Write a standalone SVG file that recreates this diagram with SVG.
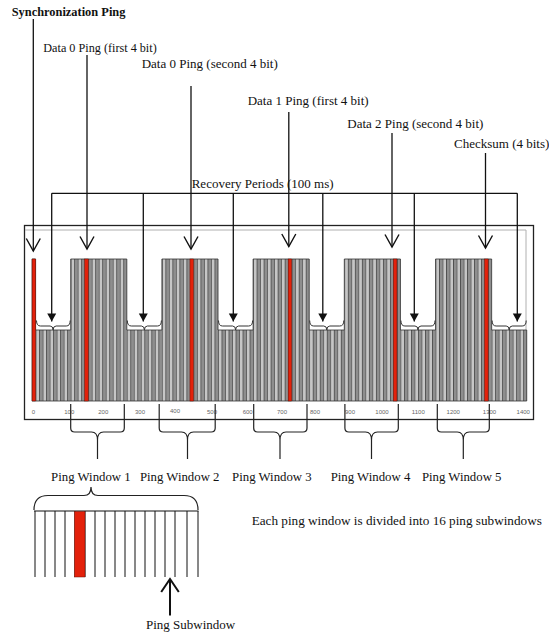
<svg xmlns="http://www.w3.org/2000/svg" width="549" height="637" viewBox="0 0 549 637">
<defs>
<style>
text{font-family:"Liberation Serif","Times New Roman",serif;fill:#111;}
.lbl{font-size:13px;}
.sync{font-size:12.4px;font-weight:bold;}
.pw{font-size:12.8px;}
.ax{font-family:"Liberation Sans",Arial,sans-serif;font-size:6px;fill:#666;text-anchor:middle;}
.ln{stroke:#111;stroke-width:1.3;fill:none;}
.open{marker-end:url(#openHead);}
.solid{marker-end:url(#solidHead);}
.brace{stroke:#222;stroke-width:1.2;fill:none;}
.sbrace{stroke:#333;stroke-width:1;fill:none;}
.red{fill:#e3210b;stroke:#6a0c00;stroke-width:0.5;}
.sub{stroke:#111;stroke-width:1;fill:none;}
</style>
<pattern id="bars" patternUnits="userSpaceOnUse" x="32.1" y="0" width="7.016" height="20">
<rect x="0" y="0" width="3.508" height="20" fill="#8e8e8e"/>
<rect x="3.508" y="0" width="3.508" height="20" fill="#c6c6c6"/>
<rect x="0" y="0" width="0.6" height="20" fill="#333"/>
<rect x="3.508" y="0" width="0.6" height="20" fill="#333"/>
</pattern>
<marker id="openHead" markerUnits="userSpaceOnUse" markerWidth="20" markerHeight="20" refX="0" refY="0" orient="auto" overflow="visible">
<path d="M-12.5,-7 L0,0 L-12.5,7" fill="none" stroke="#111" stroke-width="1.4"/>
</marker>
<marker id="solidHead" markerUnits="userSpaceOnUse" markerWidth="12" markerHeight="12" refX="0" refY="0" orient="auto" overflow="visible">
<path d="M-8,-4.5 L0,0 L-8,4.5 Z" fill="#111"/>
</marker>
<marker id="upHead" markerUnits="userSpaceOnUse" markerWidth="20" markerHeight="20" refX="0" refY="0" orient="auto" overflow="visible">
<path d="M-13,-8.8 L0,0 L-13,8.8" fill="none" stroke="#111" stroke-width="2"/>
</marker>
</defs>

<rect width="549" height="637" fill="#fff"/>

<g id="chart">
<rect x="24.5" y="225.5" width="509" height="194" fill="#fff" stroke="#222" stroke-width="1.3"/>
<polyline points="25,230 526,230 526,401" fill="none" stroke="#b0b0b0" stroke-width="1"/>
<path d="M32.1,401 V259 H35.61 V330 H70.69 V259 H126.82 V330 H161.9 V259 H218.02 V330 H253.1 V259 H309.23 V330 H344.31 V259 H400.44 V330 H435.52 V259 H491.65 V330 H526.73 V401 Z" fill="url(#bars)" stroke="#333" stroke-width="0.8"/>
<rect class="red" x="32.1" y="259" width="3.51" height="142"/>
<rect class="red" x="84.72" y="259" width="3.51" height="142"/>
<rect class="red" x="189.96" y="259" width="3.51" height="142"/>
<rect class="red" x="288.18" y="259" width="3.51" height="142"/>
<rect class="red" x="393.42" y="259" width="3.51" height="142"/>
<rect class="red" x="484.63" y="259" width="3.51" height="142"/>
<g id="axis">
<text class="ax" x="33.3" y="414">0</text>
<text class="ax" x="69.3" y="414">100</text>
<text class="ax" x="103.3" y="414">200</text>
<text class="ax" x="140" y="414">300</text>
<text class="ax" x="175" y="412.5">400</text>
<text class="ax" x="212" y="414">500</text>
<text class="ax" x="247.7" y="414">600</text>
<text class="ax" x="282" y="414">700</text>
<text class="ax" x="315" y="414">800</text>
<text class="ax" x="350" y="414">900</text>
<text class="ax" x="382" y="414">1000</text>
<text class="ax" x="418.3" y="414">1100</text>
<text class="ax" x="453.3" y="414">1200</text>
<text class="ax" x="489.5" y="414">1300</text>
<text class="ax" x="523.3" y="414">1400</text>
</g>
<g id="recovery-braces">
<path class="sbrace" d="M36.5,320.5 Q36.5,326 40.5,326 H50.1 Q53.1,326 53.1,330 M53.1,330 Q53.1,326 56.1,326 H66.2 Q70.2,326 70.2,320.5"/>
<path class="sbrace" d="M127.3,320.5 Q127.3,326 131.3,326 H141.4 Q144.4,326 144.4,330 M144.4,330 Q144.4,326 147.4,326 H157.4 Q161.4,326 161.4,320.5"/>
<path class="sbrace" d="M218.5,320.5 Q218.5,326 222.5,326 H232.6 Q235.6,326 235.6,330 M235.6,330 Q235.6,326 238.6,326 H248.6 Q252.6,326 252.6,320.5"/>
<path class="sbrace" d="M309.7,320.5 Q309.7,326 313.7,326 H323.8 Q326.8,326 326.8,330 M326.8,330 Q326.8,326 329.8,326 H339.8 Q343.8,326 343.8,320.5"/>
<path class="sbrace" d="M400.9,320.5 Q400.9,326 404.9,326 H415 Q418,326 418,330 M418,330 Q418,326 421,326 H431 Q435,326 435,320.5"/>
<path class="sbrace" d="M492.1,320.5 Q492.1,326 496.1,326 H506.2 Q509.2,326 509.2,330 M509.2,330 Q509.2,326 512.2,326 H522.2 Q526.2,326 526.2,320.5"/>
</g>
</g>

<g id="connectors">
<path class="ln open" d="M33.3,19 V251"/>
<path class="ln open" d="M87,55 V249"/>
<path class="ln open" d="M191,86 V249"/>
<path class="ln open" d="M288.8,112 V246.5"/>
<path class="ln open" d="M392,133 V247"/>
<path class="ln open" d="M485.5,153 V248"/>
<path class="ln" d="M51.7,193.3 H517.3"/>
<path class="ln solid" d="M51.7,193.3 V321.5"/>
<path class="ln solid" d="M143.3,193.3 V321.5"/>
<path class="ln solid" d="M233.3,193.3 V321.5"/>
<path class="ln solid" d="M322.8,193.3 V321.5"/>
<path class="ln solid" d="M414.3,193.3 V321.5"/>
<path class="ln solid" d="M517.3,193.3 V321.5"/>
<path class="brace" d="M70.7,404 V428 Q70.7,432 74.7,432 H91.5 Q97.5,432 97.5,440 V459 M124.3,404 V428 Q124.3,432 120.3,432 H103.5 Q97.5,432 97.5,440"/>
<path class="brace" d="M159.2,404 V428 Q159.2,432 163.2,432 H181.5 Q187.5,432 187.5,440 V459 M215.2,404 V428 Q215.2,432 211.2,432 H193.5 Q187.5,432 187.5,440"/>
<path class="brace" d="M253.7,404 V428 Q253.7,432 257.7,432 H274 Q280,432 280,440 V459 M307,404 V428 Q307,432 303,432 H286 Q280,432 280,440"/>
<path class="brace" d="M344.9,404 V428 Q344.9,432 348.9,432 H365.5 Q371.5,432 371.5,440 V459 M398.3,404 V428 Q398.3,432 394.3,432 H377.5 Q371.5,432 371.5,440"/>
<path class="brace" d="M437.3,404 V428 Q437.3,432 441.3,432 H457.3 Q463.3,432 463.3,440 V459 M489.3,404 V428 Q489.3,432 485.3,432 H469.3 Q463.3,432 463.3,440"/>
<path class="brace" d="M34,510 Q34,495.5 48,495.5 H84 Q91,495.5 91,487 M91,487 Q91,495.5 98,495.5 H184 Q198,495.5 198,510"/>
<path class="ln" style="stroke-width:2" marker-end="url(#upHead)" d="M170,615.5 V579"/>
</g>

<g id="label-sync"><text class="sync" x="11.7" y="16">Synchronization Ping</text></g>
<g id="label-data0a"><text class="lbl" x="43.3" y="51.7" style="font-size:12.2px">Data 0 Ping (first 4 bit)</text></g>
<g id="label-data0b"><text class="lbl" x="141.7" y="68.3">Data 0 Ping (second 4 bit)</text></g>
<g id="label-data1"><text class="lbl" x="247.7" y="105">Data 1 Ping (first 4 bit)</text></g>
<g id="label-data2"><text class="lbl" x="347.3" y="127.7">Data 2 Ping (second 4 bit)</text></g>
<g id="label-checksum"><text class="lbl" x="454" y="147.7">Checksum (4 bits)</text></g>
<g id="label-recovery"><text class="lbl" x="191.7" y="188.3">Recovery Periods (100 ms)</text></g>

<g id="ping-windows">
<text class="pw" x="51.1" y="480.5">Ping Window 1</text>
<text class="pw" x="139.9" y="480.5">Ping Window 2</text>
<text class="pw" x="232.1" y="480.5">Ping Window 3</text>
<text class="pw" x="330.7" y="480.5">Ping Window 4</text>
<text class="pw" x="421.9" y="480.5">Ping Window 5</text>
</g>

<g id="subwindow-detail">
<path class="sub" d="M34,511 H198.5"/>
<path class="sub" d="M35,511 V577 M45,511 V577 M55,511 V577 M65,511 V577 M75,511 V577 M85,511 V577 M95,511 V577 M105,511 V577 M115,511 V577 M125,511 V577 M135,511 V577 M145,511 V577 M155,511 V577 M165,511 V577 M175,511 V577 M187,511 V577 M198,511 V577"/>
<rect class="red" x="74.5" y="511.5" width="10.5" height="65.5"/>
</g>

<g id="label-note"><text class="lbl" x="251.7" y="525" style="font-size:13.2px">Each ping window is divided into 16 ping subwindows</text></g>
<g id="label-subwindow"><text class="lbl" x="146" y="629">Ping Subwindow</text></g>
</svg>
